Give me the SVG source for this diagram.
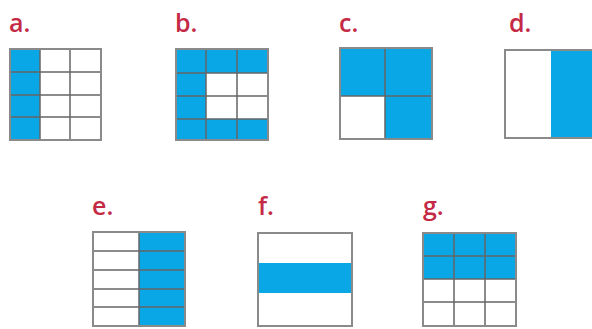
<svg xmlns="http://www.w3.org/2000/svg" width="592" height="329" viewBox="0 0 592 329">
<style>
.lbl{font-family:"Open Sans","Liberation Sans",sans-serif;font-weight:600;font-size:25px;fill:#c42a45}
.b{fill:#0aa7e6}
.w{fill:#fff}
.g{fill:none;stroke:#666;stroke-width:1.5}
.o{fill:none;stroke:#8a8a8a;stroke-width:2}
</style>
<rect width="592" height="329" fill="#fff"/>
<g id="a">
<text class="lbl" x="9" y="32">a.</text>
<rect class="w" x="10" y="49" width="91" height="91"/>
<rect class="b" x="10" y="49" width="30" height="91"/>
<path class="g" d="M40 49V140M70 49V140M10 72H101M10 95H101M10 117H101"/>
<rect class="o" x="10" y="49" width="91" height="91"/>
</g>
<g id="b">
<text class="lbl" x="175" y="32">b.</text>
<rect class="b" x="176" y="49" width="92" height="91"/>
<rect class="w" x="206" y="73" width="62" height="46"/>
<path class="g" d="M206 49V140M237 49V140M176 73H268M176 96H268M176 119H268"/>
<rect class="o" x="176" y="49" width="92" height="91"/>
</g>
<g id="c">
<text class="lbl" x="339" y="32">c.</text>
<rect class="b" x="340" y="48" width="92" height="91"/>
<rect class="w" x="340" y="96" width="45" height="43"/>
<path class="g" d="M385 48V139M340 96H432"/>
<rect class="o" x="340" y="48" width="92" height="91"/>
</g>
<g id="d">
<text class="lbl" x="509" y="32">d.</text>
<rect class="w" x="505" y="50" width="92" height="88"/>
<rect class="b" x="551" y="50" width="46" height="88"/>
<rect class="o" x="505" y="50" width="92" height="88"/>
</g>
<g id="e">
<text class="lbl" x="92" y="215">e.</text>
<rect class="w" x="93" y="232" width="92" height="94"/>
<rect class="b" x="139" y="232" width="46" height="94"/>
<path class="g" d="M139 232V326M93 251H185M93 270H185M93 289H185M93 307H185"/>
<rect class="o" x="93" y="232" width="92" height="94"/>
</g>
<g id="f">
<text class="lbl" x="258" y="215">f.</text>
<rect class="w" x="258" y="233" width="94" height="93"/>
<rect class="b" x="258" y="263" width="94" height="30"/>
<rect class="o" x="258" y="233" width="94" height="93"/>
</g>
<g id="g">
<text class="lbl" x="423" y="215">g.</text>
<rect class="w" x="423" y="233" width="93" height="93"/>
<rect class="b" x="423" y="233" width="93" height="46"/>
<path class="g" d="M454 233V326M485 233V326M423 256H516M423 279H516M423 302H516"/>
<rect class="o" x="423" y="233" width="93" height="93"/>
</g>
</svg>
